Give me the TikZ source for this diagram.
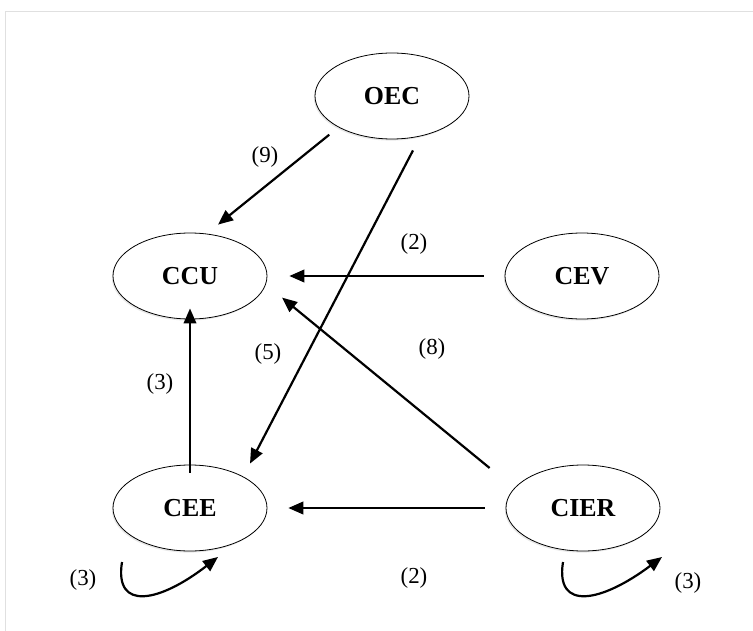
\documentclass[tikz,border=0pt]{standalone}
\usepackage{fontspec}
\setmainfont{Liberation Serif}
\usetikzlibrary{arrows.meta,shapes.geometric,shadows}
\tikzset{
  ent/.style={draw=black, fill=white, line width=0.8bp, ellipse, minimum width=154bp, minimum height=86bp, inner sep=0pt,
    drop shadow={opacity=0.18, shadow xshift=-1.2bp, shadow yshift=-1.6bp},
    font=\fontsize{26}{28}\selectfont\bfseries},
  arr/.style={line width=2.2bp, -{Triangle[length=15bp,width=12.5bp]}},
  lab/.style={font=\fontsize{23}{25}\selectfont, inner sep=0pt},
  frame/.style={draw=black!12, line width=1bp}
}
\begin{document}
\begin{tikzpicture}[x=1bp,y=-1bp]
\useasboundingbox (0,0) rectangle (753,631);
\coordinate (fa) at (5,631);
\coordinate (fb) at (5,12);
\coordinate (fc) at (753,12);
\draw[frame] (fa) -- (fb) -- (fc);

\node[ent] (OEC) at (392,96) {OEC};
\node[ent] (CCU) at (190,276) {CCU};
\node[ent] (CEV) at (582,276) {CEV};
\node[ent] (CEE) at (190,508) {CEE};
\node[ent] (CIER) at (583,508) {CIER};

% edges
\draw[arr] ([shift={(-8,8)}]OEC.south west) -- ([shift={(28,-8)}]CCU.north);
\draw[arr] ([shift={(21,11)}]OEC.south) -- ([shift={(60,-1)}]CEE.north);
\draw[arr] ([xshift=-21]CEV.west) -- ([xshift=22]CCU.east);
\draw[arr] ([shift={(-16,-40)}]CIER.west) -- ([shift={(92,65)}]CCU.north);
\draw[arr] ([yshift=-8]CEE.north) -- ([yshift=11]CCU.south);
\draw[arr] ([xshift=-21]CIER.west) -- ([xshift=21]CEE.east);

% self loops
\coordinate (s1) at (122,562);
\coordinate (t1) at (218,557);
\draw[arr] (s1) .. controls (114,612) and (160,602) .. (t1);
\coordinate (s2) at (563,562);
\coordinate (t2) at (662,557);
\draw[arr] (s2) .. controls (555,612) and (602,602) .. (t2);

% labels
\node[lab] (l9) at (265,157) {(9)};
\node[lab] (l2a) at (414,244) {(2)};
\node[lab] (l8) at (432,349) {(8)};
\node[lab] (l5) at (268,354) {(5)};
\node[lab] (l3) at (160,384) {(3)};
\node[lab] (l2b) at (414,578) {(2)};
\node[lab] (l3a) at (83,580) {(3)};
\node[lab] (l3b) at (688,583) {(3)};
\end{tikzpicture}
\end{document}
